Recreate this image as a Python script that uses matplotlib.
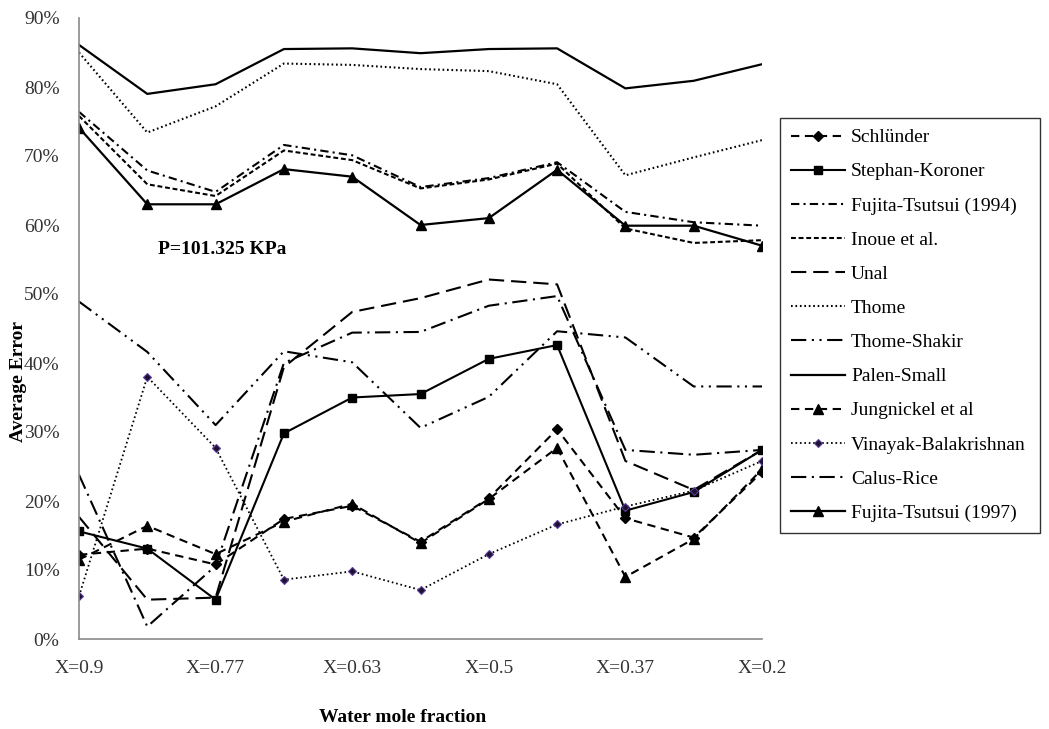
import numpy as np
import matplotlib
matplotlib.use("Agg")
import matplotlib.pyplot as plt
from matplotlib.ticker import FuncFormatter

plt.rcParams['font.family'] = ['Liberation Serif', 'DejaVu Serif']
plt.rcParams['lines.scale_dashes'] = False

# 11 measurement points, labelled every second one
x_idx = np.arange(11)
x_ticks = [0, 2, 4, 6, 8, 10]
x_labels = ['X=0.9', 'X=0.77', 'X=0.63', 'X=0.5', 'X=0.37', 'X=0.2']

# average error (%) per correlation
schlunder = [12.2, 13.1, 10.8, 17.4, 19.3, 14.1, 20.4, 30.4, 17.5, 14.7, 24.2]
stephan = [15.6, 13.1, 5.7, 29.8, 35.0, 35.5, 40.6, 42.6, 18.6, 21.3, 27.4]
fujita94 = [76.4, 67.9, 64.8, 71.6, 70.1, 65.5, 66.8, 69.1, 61.9, 60.4, 59.9]
inoue = [75.8, 65.9, 64.2, 70.8, 69.4, 65.3, 66.6, 68.9, 59.5, 57.4, 57.8]
unal = [17.7, 5.7, 6.0, 39.4, 47.4, 49.4, 52.1, 51.4, 25.8, 21.6, 27.4]
thome = [85.0, 73.4, 77.2, 83.4, 83.2, 82.6, 82.3, 80.4, 67.2, 69.8, 72.3]
thome_shakir = [48.9, 41.6, 31.0, 41.7, 40.1, 30.6, 35.1, 44.6, 43.7, 36.6, 36.6]
palen = [86.1, 79.0, 80.4, 85.5, 85.6, 84.9, 85.5, 85.6, 79.8, 80.9, 83.3]
jungnickel = [11.5, 16.4, 12.3, 17.0, 19.6, 13.9, 20.3, 27.7, 9.0, 14.5, 24.6]
vinayak = [6.2, 38.0, 27.7, 8.6, 9.8, 7.1, 12.3, 16.6, 19.2, 21.5, 25.8]
calus_rice = [23.8, 1.8, 10.6, 40.0, 44.4, 44.5, 48.3, 49.7, 27.4, 26.7, 27.4]
fujita97 = [74.1, 63.0, 63.0, 68.1, 67.0, 60.0, 61.0, 68.0, 59.9, 59.9, 57.0]

fig = plt.figure(figsize=(10.49, 7.29), dpi=100)
ax = fig.add_axes([79 / 1049, 90 / 729, 683 / 1049, 621 / 729])

k = dict(color='black')
ax.plot(x_idx, schlunder, ls=(0, (6, 4)), lw=1.5, marker='D', ms=5.5, label='Schlünder', **k)
ax.plot(x_idx, stephan, ls='-', lw=1.5, marker='s', ms=5.5, label='Stephan-Koroner', **k)
ax.plot(x_idx, fujita94, ls=(0, (6, 3, 1.5, 3)), lw=1.5, label='Fujita-Tsutsui (1994)', **k)
ax.plot(x_idx, inoue, ls=(0, (3.5, 2)), lw=1.5, label='Inoue et al.', **k)
ax.plot(x_idx, unal, ls=(0, (11, 5)), lw=1.5, label='Unal', **k)
ax.plot(x_idx, thome, ls=(0, (1.2, 2)), lw=1.5, label='Thome', **k)
ax.plot(x_idx, thome_shakir, ls=(0, (11, 4, 1.5, 4, 1.5, 4)), lw=1.5, label='Thome-Shakir', **k)
ax.plot(x_idx, palen, ls='-', lw=1.6, label='Palen-Small', **k)
ax.plot(x_idx, jungnickel, ls=(0, (6, 4)), lw=1.5, marker='^', ms=6.5, label='Jungnickel et al', **k)
ax.plot(x_idx, vinayak, ls=(0, (1.2, 2)), lw=1.3, marker='D', ms=4.5,
        mfc='#1e1030', mec='#5b3f9a', mew=0.8, label='Vinayak-Balakrishnan', color='black')
ax.plot(x_idx, calus_rice, ls=(0, (11, 4, 1.5, 4)), lw=1.5, label='Calus-Rice', **k)
ax.plot(x_idx, fujita97, ls='-', lw=1.6, marker='^', ms=6.5, label='Fujita-Tsutsui (1997)', **k)

ax.set_xlim(0, 10)
ax.set_ylim(0, 90)
ax.set_yticks(np.arange(0, 91, 10))
ax.yaxis.set_major_formatter(FuncFormatter(lambda v, p: f'{v:.0f}%'))
ax.set_xticks(x_ticks)
ax.set_xticklabels(x_labels)
ax.tick_params(axis='both', length=0, labelsize=14, colors='#333333')
ax.tick_params(axis='x', pad=15)
ax.tick_params(axis='y', pad=14)
for s in ['top', 'right']:
    ax.spines[s].set_visible(False)
for s in ['left', 'bottom']:
    ax.spines[s].set_color('#8a8a8a')
    ax.spines[s].set_linewidth(1.2)

ax.text(2.09, 56.4, 'P=101.325 KPa', fontsize=14, fontweight='bold',
        ha='center', va='center')

fig.text(18.5 / 1049, 1 - 382 / 729, 'Average Error', rotation=90, fontsize=14,
         fontweight='bold', ha='center', va='center')
fig.text(403 / 1049, 1 - 717 / 729, 'Water mole fraction', fontsize=14,
         fontweight='bold', ha='center', va='center')

leg = ax.legend(loc='upper left',
                bbox_to_anchor=(780 / 1049, 1 - 535 / 729, 260 / 1049, 417 / 729),
                bbox_transform=fig.transFigure, mode='expand', borderaxespad=0,
                fontsize=14, frameon=True, fancybox=False, numpoints=1,
                handlelength=2.8, handletextpad=0.3, labelspacing=0.85,
                borderpad=0.55)
leg.get_frame().set_edgecolor('black')
leg.get_frame().set_linewidth(1.0)

fig.savefig('out.png', dpi=100)
